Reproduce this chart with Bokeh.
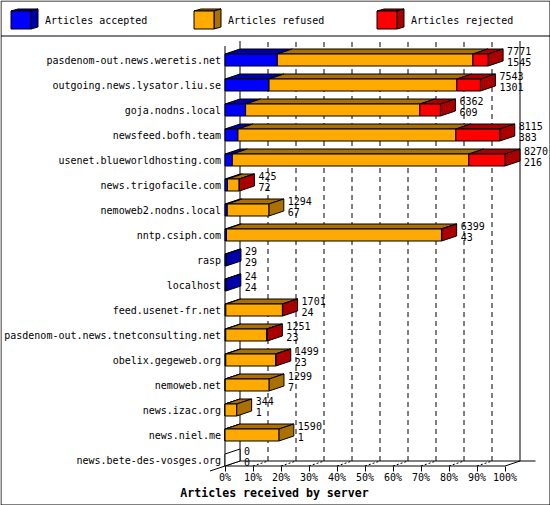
from bokeh.embed import file_html
from bokeh.resources import INLINE
from bokeh.plotting import figure
from bokeh.models import Range1d, FixedTicker, ColumnDataSource
from bokeh.core.properties import value

hosts = ["pasdenom-out.news.weretis.net", "outgoing.news.lysator.liu.se", "goja.nodns.local",
         "newsfeed.bofh.team", "usenet.blueworldhosting.com", "news.trigofacile.com",
         "nemoweb2.nodns.local", "nntp.csiph.com", "rasp", "localhost", "feed.usenet-fr.net",
         "pasdenom-out.news.tnetconsulting.net", "obelix.gegeweb.org", "nemoweb.net",
         "news.izac.org", "news.niel.me", "news.bete-des-vosges.org"]
accepted = [1545, 1301, 609, 383, 216, 72, 67, 43, 29, 24, 24, 23, 23, 7, 1, 1, 0]
refused = [5777, 5546, 5145, 6435, 6985, 347, 1227, 6351, 0, 0, 1672, 1208, 1470, 1292, 343, 1589, 0]
rejected = [449, 696, 608, 1297, 1069, 6, 0, 5, 0, 0, 5, 20, 6, 0, 0, 0, 0]
pct_ticks = [0, 10, 20, 30, 40, 50, 60, 70, 80, 90, 100]
legend_labels = ["Articles accepted", "Articles refused", "Articles rejected"]
face_colors = ["#0000ff", "#ffaa00", "#ff0000"]
dark_colors = ["#0000aa", "#aa7100", "#aa0000"]
title_text = "Articles received by server"

FONT = "DejaVu Sans Mono"
W, H = 550, 505
PX_PER_PCT = 2.8
ROW_PX = 25
DX = 15 / PX_PER_PCT       # depth of the 3D effect, in x units
DY = 5 / ROW_PX            # depth of the 3D effect, in y units
HH = 6 / ROW_PX            # half height of a bar front

p = figure(width=W, height=H, output_backend="svg", toolbar_location=None,
           x_range=Range1d(-224.5 / PX_PER_PCT, (W - 224.5) / PX_PER_PCT),
           y_range=Range1d((H - 59.5) / ROW_PX, -59.5 / ROW_PX),
           min_border=0, outline_line_color=None,
           background_fill_color="white", border_fill_color="white")
p.extra_x_ranges["px"] = Range1d(0, W)
p.extra_y_ranges["px"] = Range1d(H, 0)
p.grid.visible = False

bottom = len(hosts) - 1 + HH
back = bottom - DY
top_back = (40.5 - 59.5) / ROW_PX
top_front = top_back + DY

# axes, drawn inside the full-canvas frame
xa = p.xaxis[0]
xa.fixed_location = bottom
xa.ticker = FixedTicker(ticks=pct_ticks)
xa.major_label_overrides = {t: f"{t}%" for t in pct_ticks}
xa.axis_line_color = None
xa.major_tick_in = 0
xa.major_tick_out = 5
xa.major_tick_line_color = "black"
xa.minor_tick_line_color = None
xa.major_label_standoff = 1
xa.major_label_text_font = FONT
xa.major_label_text_font_size = "10px"
xa.major_label_text_color = "black"

ya = p.yaxis[0]
ya.fixed_location = 0
ya.ticker = FixedTicker(ticks=list(range(len(hosts))))
ya.major_label_overrides = {i: h for i, h in enumerate(hosts)}
ya.axis_line_color = None
ya.major_tick_line_color = None
ya.major_tick_in = 0
ya.major_tick_out = 0
ya.minor_tick_line_color = None
ya.major_label_standoff = 4
ya.major_label_text_font = FONT
ya.major_label_text_font_size = "10px"
ya.major_label_text_color = "black"

# back-wall grid
inner = pct_ticks[1:-1]
p.segment([t + DX for t in inner], [back] * len(inner), [t + DX for t in inner], [top_back] * len(inner),
          line_color="black", line_width=1, line_dash="5 4")
p.segment(inner, [bottom] * len(inner), [t + DX for t in inner], [back] * len(inner),
          line_color="black", line_width=1, line_dash="2 2")
p.segment([0, DX, 100 + DX, 0, DX, 100, -DX], [top_front, top_back, top_back, bottom, back, bottom, bottom + DY],
          [0, DX, 100 + DX, 100, (535 - 224.5) / PX_PER_PCT, 100 + DX, DX], [bottom, back, back, bottom, back, back, back],
          line_color="black", line_width=1)

# bars
totals = [a + r + j for a, r, j in zip(accepted, refused, rejected)]
MAX = max(totals)
front_x, front_y, front_c = [], [], []
top_x, top_y, top_c = [], [], []
side_x, side_y, side_c = [], [], []
for i in range(len(hosts)):
    left = 0.0
    last = None
    for k, vals in enumerate((accepted, refused, rejected)):
        if vals[i] == 0:
            continue
        right = left + 100 * vals[i] / MAX
        front_x.append([left, right, right, left])
        front_y.append([i - HH, i - HH, i + HH, i + HH])
        front_c.append(face_colors[k])
        top_x.append([left, right, right + DX, left + DX])
        top_y.append([i - HH, i - HH, i - HH - DY, i - HH - DY])
        top_c.append(dark_colors[k])
        left = right
        last = k
    side_x.append([left, left + DX, left + DX, left])
    side_y.append([i - HH, i - HH - DY, i + HH - DY, i + HH])
    side_c.append("white" if last is None else dark_colors[last])

for xs, ys, cs in ((top_x, top_y, top_c), (side_x, side_y, side_c), (front_x, front_y, front_c)):
    p.patches(xs="x", ys="y", fill_color="c", line_color="black", line_width=1,
              source=ColumnDataSource(dict(x=xs, y=ys, c=cs)))

# value labels
rows = list(range(len(hosts)))
lx = [100 * t / MAX + DX for t in totals]
common = dict(text_font=value(FONT), text_font_size="10px", text_color="black",
              text_baseline="middle", text_align="left", x_offset=4)
p.text(lx, [i - 9.5 / ROW_PX for i in rows], text=[str(t) for t in totals], **common)
p.text(lx, [i + 1.5 / ROW_PX for i in rows], text=[str(a) for a in accepted], **common)

# page furniture, in canvas pixels
px = dict(x_range_name="px", y_range_name="px")
p.line([0.5, W - 0.5, W - 0.5, 0.5, 0.5], [0.5, 0.5, H - 0.5, H - 0.5, 0.5],
       line_color="black", line_width=1, **px)
p.line([0.5, W - 0.5], [35.5, 35.5], line_color="black", line_width=1, **px)

# legend
for lx0, txt, face, dark in zip((10.5, 193.5, 376.5), legend_labels, face_colors, dark_colors):
    p.patches([[lx0, lx0 + 20, lx0 + 27, lx0 + 7],
               [lx0 + 20, lx0 + 27, lx0 + 27, lx0 + 20],
               [lx0, lx0 + 20, lx0 + 20, lx0]],
              [[10.5, 10.5, 8.5, 8.5], [10.5, 8.5, 26.5, 28.5], [10.5, 10.5, 28.5, 28.5]],
              fill_color=[dark, dark, face], line_color="black", line_width=1, **px)
    p.text([lx0 + 34], [20], text=[txt], text_font=value(FONT), text_font_size="10px",
           text_color="black", text_baseline="middle", text_align="left", **px)

p.text([274], [492], text=[title_text], text_font=value(FONT), text_font_size="11.6px",
       text_font_style="bold", text_color="black", text_baseline="middle", text_align="center", **px)

html = file_html(p, INLINE).replace("<head>", "<head><style>html,body{margin:0;padding:0}</style>", 1)
open("out.html", "w").write(html)
